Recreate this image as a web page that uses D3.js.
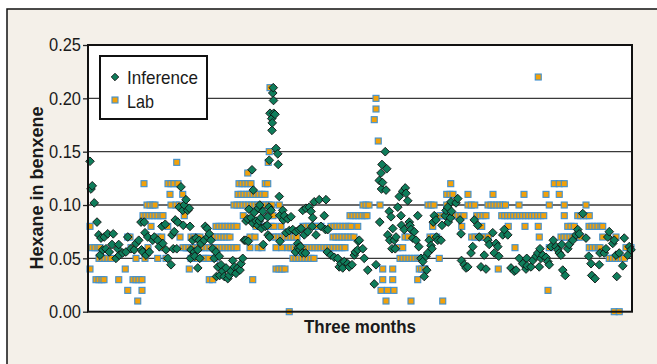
<!DOCTYPE html>
<html>
<head>
<meta charset="utf-8">
<script src="https://cdn.jsdelivr.net/npm/d3@7"></script>
<style>
  html, body { margin: 0; padding: 0; background: #ffffff; }
  svg text { font-family: "Liberation Sans", Arial, sans-serif; fill: #1a1a1a; }
</style>
</head>
<body>
<svg id="chart" width="657" height="364"></svg>
<script>
// Hexane content in the benzene product over three months:
// soft-sensor inference vs. lab analyses. [hour since start, mass fraction]
const yTicks = [0.00, 0.05, 0.10, 0.15, 0.20, 0.25];
const seriesNames = ["Inference", "Lab"];
const axisTitles = { x: "Three months", y: "Hexane in benxene" };

const inference = [
  [4,0.141],[8,0.115],[13,0.118],[21,0.102],[32,0.084],[39,0.072],[44,0.053],[48,0.069],[55,0.058],[61,0.070],
  [68,0.059],[75,0.073],[81,0.056],[92,0.063],[97,0.073],[108,0.050],[115,0.059],[119,0.063],[121,0.053],[135,0.055],
  [148,0.056],[155,0.070],[168,0.059],[181,0.058],[188,0.064],[199,0.067],[208,0.084],[210,0.058],[215,0.056],[221,0.084],
  [224,0.074],[228,0.053],[235,0.070],[241,0.056],[255,0.067],[261,0.070],[275,0.067],[281,0.061],[292,0.080],[295,0.064],
  [305,0.082],[308,0.058],[315,0.050],[328,0.044],[332,0.072],[337,0.059],[341,0.075],[345,0.086],[351,0.059],
  [355,0.084],[361,0.098],[368,0.117],[375,0.095],[377,0.081],[381,0.100],[388,0.105],[395,0.095],[401,0.097],[404,0.080],
  [406,0.050],[408,0.058],[415,0.067],[421,0.056],[423,0.052],[428,0.069],[435,0.058],[435,0.041],[441,0.067],[443,0.050],
  [448,0.064],[461,0.067],[465,0.080],[473,0.078],[475,0.070],[481,0.073],[488,0.067],[495,0.059],[501,0.050],[508,0.056],
  [510,0.033],[515,0.042],[521,0.052],[523,0.034],[528,0.044],[535,0.038],[541,0.033],[548,0.041],[555,0.031],[561,0.034],
  [568,0.038],[575,0.048],[581,0.042],[588,0.036],[595,0.041],[604,0.039],[608,0.045],[615,0.050],[621,0.067],[627,0.067],
  [628,0.085],[635,0.087],[637,0.066],[640,0.096],[648,0.088],[652,0.133],[655,0.083],[657,0.114],[661,0.093],[668,0.085],
  [675,0.081],[677,0.097],[681,0.085],[683,0.100],[688,0.088],[690,0.078],[695,0.094],[697,0.063],[705,0.080],
  [713,0.081],[715,0.089],[716,0.072],[720,0.098],[721,0.142],[722,0.070],[724,0.186],[728,0.095],[731,0.181],[732,0.170],
  [733,0.177],[735,0.205],[737,0.210],[738,0.198],[739,0.186],[744,0.185],[748,0.153],[755,0.148],[757,0.138],[761,0.108],
  [763,0.090],[764,0.066],[775,0.095],[777,0.086],[781,0.090],[788,0.074],[795,0.087],[801,0.076],[808,0.089],[815,0.077],
  [826,0.056],[828,0.075],[835,0.064],[837,0.060],[841,0.077],[843,0.058],[846,0.061],[848,0.078],[853,0.055],[855,0.095],
  [861,0.072],[866,0.055],[868,0.097],[875,0.075],[881,0.098],[888,0.094],[893,0.080],[895,0.088],[901,0.103],[908,0.072],
  [921,0.105],[928,0.080],[941,0.090],[946,0.077],[948,0.105],[953,0.056],[955,0.077],[968,0.053],[981,0.051],[995,0.050],
  [1001,0.042],[1008,0.045],[1015,0.041],[1021,0.047],[1035,0.045],[1041,0.042],[1052,0.044],[1061,0.053],[1065,0.056],[1075,0.058],
  [1077,0.066],[1081,0.067],[1095,0.059],[1101,0.050],[1115,0.039],[1141,0.026],[1148,0.044],
  [1161,0.123],[1163,0.084],[1168,0.130],[1170,0.115],[1172,0.138],[1174,0.121],[1185,0.150],[1188,0.114],[1191,0.134],[1195,0.072],
  [1201,0.094],[1203,0.067],[1208,0.089],[1212,0.059],[1215,0.078],[1221,0.067],[1225,0.059],[1228,0.070],[1235,0.098],[1241,0.108],
  [1248,0.090],[1250,0.081],[1255,0.113],[1261,0.077],[1265,0.116],[1268,0.111],[1275,0.104],[1281,0.084],[1284,0.081],[1288,0.077],
  [1295,0.069],[1301,0.075],[1308,0.067],[1315,0.090],[1319,0.061],[1328,0.050],[1335,0.047],[1341,0.033],[1348,0.052],[1351,0.039],
  [1355,0.055],[1361,0.067],[1368,0.062],[1372,0.059],[1377,0.084],[1381,0.090],[1388,0.086],[1390,0.070],[1395,0.067],[1408,0.067],
  [1412,0.081],[1425,0.090],[1428,0.095],[1435,0.098],[1437,0.084],[1446,0.088],[1448,0.103],[1450,0.094],[1468,0.102],[1475,0.106],
  [1484,0.086],[1488,0.073],[1490,0.048],[1501,0.044],[1508,0.041],[1515,0.042],[1528,0.055],[1535,0.061],[1541,0.086],[1555,0.081],
  [1561,0.070],[1568,0.042],[1581,0.053],[1588,0.040],[1595,0.067],[1601,0.063],[1615,0.074],[1621,0.055],[1628,0.064],[1635,0.061],
  [1639,0.052],[1655,0.072],[1661,0.077],[1675,0.072],[1688,0.041],[1701,0.038],[1708,0.039],[1721,0.050],[1735,0.045],[1748,0.040],
  [1751,0.050],[1752,0.043],[1768,0.042],[1775,0.048],[1788,0.052],
  [1795,0.055],[1801,0.042],[1804,0.059],[1808,0.050],[1815,0.053],[1828,0.051],[1835,0.047],[1841,0.044],[1848,0.061],[1857,0.067],
  [1868,0.061],[1875,0.058],[1881,0.055],[1888,0.053],[1891,0.063],[1895,0.039],[1905,0.034],[1915,0.059],[1921,0.063],[1935,0.067],
  [1948,0.072],[1955,0.077],[1961,0.073],[1975,0.092],[1988,0.069],[1999,0.052],[2008,0.045],[2011,0.034],[2024,0.031],[2041,0.044],
  [2044,0.055],[2061,0.055],[2068,0.059],[2075,0.070],[2081,0.075],[2095,0.064],[2101,0.067],[2108,0.053],[2111,0.033],[2121,0.055],
  [2135,0.043],[2141,0.069],[2155,0.053],[2161,0.061],[2168,0.058]
];

const lab = [
  [4,0.08],[4,0.04],[12,0.06],[24,0.06],[36,0.06],[44,0.06],[28,0.03],[40,0.03],[52,0.03],[60,0.03],
  [40,0.05],[52,0.05],[64,0.05],[76,0.05],[88,0.05],[119,0.03],[145,0.04],[155,0.07],[155,0.02],[164,0.07],
  [168,0.06],[176,0.03],[188,0.03],[200,0.03],[212,0.03],[212,0.02],[195,0.01],[188,0.05],[220,0.12],
  [232,0.10],[244,0.10],[256,0.10],[264,0.10],
  [216,0.09],[228,0.09],[240,0.09],[252,0.09],[264,0.09],[276,0.09],[288,0.09],[296,0.09],
  [248,0.08],[315,0.08],[275,0.07],[291,0.07],[236,0.06],[292,0.06],[224,0.05],[275,0.05],[308,0.05],
  [316,0.12],[328,0.12],[340,0.12],[356,0.12],[324,0.11],[375,0.11],[328,0.10],[348,0.10],[361,0.10],[351,0.14],
  [381,0.09],[364,0.07],[392,0.06],[401,0.04],
  [376,0.06],[388,0.06],[400,0.06],[412,0.06],[424,0.06],[436,0.06],[448,0.06],[460,0.06],[472,0.06],[484,0.06],
  [496,0.06],[508,0.06],[520,0.06],[532,0.06],[544,0.06],[556,0.06],[568,0.06],[580,0.06],[592,0.06],
  [408,0.07],[420,0.07],[432,0.07],[444,0.07],[480,0.07],[492,0.07],[504,0.07],[516,0.07],[528,0.07],[540,0.07],[552,0.07],[564,0.07],
  [508,0.08],[520,0.08],[532,0.08],[544,0.08],[556,0.08],[568,0.08],[580,0.08],[592,0.08],
  [408,0.05],[420,0.05],[432,0.05],[456,0.05],[468,0.05],[480,0.05],[504,0.05],
  [580,0.10],[592,0.10],[604,0.10],[616,0.10],[628,0.10],[640,0.10],[652,0.10],[664,0.10],[676,0.10],[688,0.10],[700,0.10],[708,0.10],
  [596,0.11],[608,0.11],[620,0.11],[632,0.11],[644,0.11],[656,0.11],[668,0.11],[680,0.11],[692,0.11],[704,0.11],
  [600,0.12],[612,0.12],[624,0.12],[636,0.12],[648,0.12],[705,0.12],[635,0.13],[617,0.09],[668,0.08],[701,0.08],
  [644,0.07],[664,0.07],[644,0.06],[676,0.06],[692,0.06],[481,0.03],[495,0.03],[655,0.03],
  [724,0.21],[721,0.15],[717,0.14],[715,0.12],[720,0.10],[732,0.10],[761,0.10],[716,0.09],[736,0.09],
  [728,0.08],[740,0.08],[768,0.08],
  [736,0.07],[748,0.07],[760,0.07],[772,0.07],[784,0.07],[796,0.07],[808,0.07],[820,0.07],[832,0.07],
  [748,0.06],[771,0.06],[796,0.06],[808,0.06],[820,0.06],[832,0.06],[844,0.06],[856,0.06],[868,0.06],[880,0.06],
  [892,0.06],[904,0.06],[916,0.06],[928,0.06],[940,0.06],[952,0.06],[964,0.06],[976,0.06],[988,0.06],[1000,0.06],[1012,0.06],[1024,0.06],
  [856,0.08],[868,0.08],[880,0.08],[892,0.08],[904,0.08],[916,0.08],[928,0.08],
  [968,0.08],[980,0.08],[992,0.08],[1004,0.08],[1016,0.08],[1028,0.08],[1040,0.08],[1048,0.08],
  [976,0.07],[988,0.07],[1000,0.07],[1012,0.07],[1024,0.07],[1036,0.07],[1048,0.07],[1060,0.07],
  [816,0.05],[828,0.05],[840,0.05],[852,0.05],[864,0.05],[876,0.05],[888,0.05],[900,0.05],
  [748,0.04],[760,0.04],[772,0.04],[784,0.04],[801,0.00],
  [1044,0.09],[1056,0.09],[1068,0.09],[1080,0.09],[1092,0.09],[1104,0.09],[1112,0.09],
  [1148,0.20],[1148,0.19],[1141,0.18],[1157,0.16],
  [1096,0.10],[1108,0.10],[1120,0.10],[1164,0.10],[1356,0.10],[1368,0.10],[1380,0.10],
  [1075,0.08],[1375,0.08],[1264,0.07],[1277,0.07],[1364,0.07],[1377,0.07],[1391,0.07],[1235,0.06],[1255,0.06],
  [1244,0.05],[1256,0.05],[1268,0.05],[1280,0.05],[1292,0.05],[1304,0.05],[1316,0.05],[1324,0.05],[1401,0.05],
  [1175,0.04],[1215,0.04],[1321,0.04],[1341,0.04],[1175,0.03],[1215,0.03],[1315,0.03],
  [1168,0.02],[1194,0.02],[1220,0.02],[1188,0.01],[1288,0.01],[1415,0.01],
  [1431,0.11],[1444,0.11],[1456,0.11],[1447,0.12],[1431,0.10],
  [1516,0.11],[1616,0.11],[1740,0.11],
  [1516,0.10],[1529,0.10],[1543,0.10],[1596,0.10],[1608,0.10],[1620,0.10],[1632,0.10],[1644,0.10],[1656,0.10],[1666,0.10],[1720,0.10],
  [1404,0.09],[1416,0.09],[1428,0.09],[1440,0.09],[1452,0.09],[1464,0.09],[1476,0.09],[1488,0.09],[1500,0.09],
  [1551,0.09],[1564,0.09],[1576,0.09],[1588,0.09],
  [1651,0.09],[1663,0.09],[1675,0.09],[1687,0.09],[1699,0.09],[1711,0.09],[1723,0.09],[1735,0.09],[1747,0.09],
  [1759,0.09],[1771,0.09],[1783,0.09],[1795,0.09],[1807,0.09],[1819,0.09],
  [1491,0.08],[1571,0.08],[1677,0.08],[1744,0.08],[1797,0.08],
  [1531,0.07],[1544,0.07],[1557,0.07],[1571,0.07],[1584,0.07],[1597,0.07],[1801,0.07],
  [1704,0.06],[1331,0.04],[1344,0.04],[1637,0.04],
  [1797,0.22],[1861,0.12],[1881,0.12],[1901,0.12],[1828,0.11],[1881,0.11],[1841,0.10],[1901,0.10],[1988,0.10],
  [1901,0.09],[1955,0.09],[1967,0.09],[1979,0.09],[1991,0.09],[2001,0.09],
  [1915,0.08],[1928,0.08],[1941,0.08],[2000,0.08],[2012,0.08],[2024,0.08],[2036,0.08],[2048,0.08],[2055,0.08],
  [1888,0.07],[1900,0.07],[1912,0.07],[1924,0.07],[1936,0.07],[1948,0.07],[1960,0.07],[1967,0.07],[2055,0.07],[2108,0.07],
  [1841,0.06],[2001,0.06],[2013,0.06],[2025,0.06],[2037,0.06],[2044,0.06],[2148,0.06],[2168,0.06],
  [2081,0.05],[2093,0.05],[2105,0.05],[2117,0.05],[2129,0.05],[2141,0.05],
  [1836,0.02],[2101,0.00],[2121,0.00]
];

// ---- layout ----
const W = 657, H = 364;
const plot = { left: 88, top: 45, right: 632, bottom: 311.7 };
const colors = { panel: "#f4f0e9", diamond: "#0f7d5b", square: "#f2a10a", squareEdge: "#3f90d0" };

// condensed lettering: squeeze each label to its set width
function condense(sel, width) {
  sel.attr("textLength", width).attr("lengthAdjust", "spacingAndGlyphs");
}

const svg = d3.select("#chart");

// beige panel with a frame on its top and left edges
svg.append("rect")
  .attr("x", 7).attr("y", 9).attr("width", W + 20).attr("height", H + 20)
  .attr("fill", colors.panel).attr("stroke", "#111").attr("stroke-width", 1.5);

const x = d3.scaleLinear().domain([0, 2172]).range([plot.left + 1, plot.right]);
const y = d3.scaleLinear().domain([0, 0.25]).range([plot.bottom, plot.top]);

// plot background
svg.append("rect")
  .attr("x", plot.left).attr("y", plot.top)
  .attr("width", plot.right - plot.left).attr("height", plot.bottom - plot.top)
  .attr("fill", "#ffffff");

// horizontal gridlines
svg.append("g").selectAll("line")
  .data(yTicks.filter(d => d > 0 && d < 0.25))
  .join("line")
  .attr("x1", plot.left).attr("x2", plot.right)
  .attr("y1", d => y(d)).attr("y2", d => y(d))
  .attr("stroke", "#3a3a3a").attr("stroke-width", 1.3);

// y axis
const yAxis = svg.append("g")
  .attr("transform", `translate(${plot.left},0)`)
  .call(d3.axisLeft(y).tickValues(yTicks).tickFormat(d3.format(".2f")).tickSize(5).tickPadding(2));
yAxis.select(".domain").remove();
yAxis.selectAll(".tick line").attr("stroke", "#222").attr("stroke-width", 1.3);
yAxis.selectAll(".tick text")
  .attr("font-size", 18.5).attr("fill", "#1a1a1a")
  .call(condense, 32);

// lab analyses: orange squares
const sq = 6;
svg.append("g").selectAll("rect")
  .data(lab)
  .join("rect")
  .attr("x", d => x(d[0]) - sq / 2)
  .attr("y", d => y(d[1]) - sq / 2)
  .attr("width", sq).attr("height", sq)
  .attr("fill", colors.square)
  .attr("stroke", colors.squareEdge).attr("stroke-width", 1.1);

// inference: green diamonds
const diamond = d3.symbol().type(d3.symbolDiamond2).size(48);
svg.append("g").selectAll("path")
  .data(inference)
  .join("path")
  .attr("transform", d => `translate(${x(d[0])},${y(d[1])})`)
  .attr("d", diamond)
  .attr("fill", colors.diamond)
  .attr("stroke", "#111").attr("stroke-width", 0.9);

// plot frame
svg.append("rect")
  .attr("x", plot.left).attr("y", plot.top)
  .attr("width", plot.right - plot.left).attr("height", plot.bottom - plot.top)
  .attr("fill", "none").attr("stroke", "#111").attr("stroke-width", 2);

// legend
const lg = svg.append("g");
lg.append("rect")
  .attr("x", 100).attr("y", 56).attr("width", 107).attr("height", 63)
  .attr("fill", "#ffffff").attr("stroke", "#111").attr("stroke-width", 2);
lg.append("path")
  .attr("transform", "translate(115,77)")
  .attr("d", d3.symbol().type(d3.symbolDiamond2).size(36))
  .attr("fill", colors.diamond).attr("stroke", "#111").attr("stroke-width", 0.9);
lg.append("rect")
  .attr("x", 112).attr("y", 97).attr("width", 6).attr("height", 6)
  .attr("fill", colors.square).attr("stroke", colors.squareEdge).attr("stroke-width", 1.1);
const legendWidths = [71, 27];
lg.selectAll("text.lbl")
  .data(seriesNames)
  .join("text")
  .attr("class", "lbl")
  .attr("x", 127).attr("y", (d, i) => 83.5 + i * 24)
  .attr("font-size", 19)
  .text(d => d)
  .each(function (d, i) { d3.select(this).call(condense, legendWidths[i]); });

// axis titles
svg.append("text")
  .attr("x", (plot.left + plot.right) / 2).attr("y", 333)
  .attr("text-anchor", "middle").attr("font-size", 18).attr("font-weight", "bold")
  .text(axisTitles.x)
  .call(condense, 112);
svg.append("text")
  .attr("transform", `translate(43,188) rotate(-90)`)
  .attr("text-anchor", "middle").attr("font-size", 18).attr("font-weight", "bold")
  .text(axisTitles.y)
  .call(condense, 163);
</script>
</body>
</html>
